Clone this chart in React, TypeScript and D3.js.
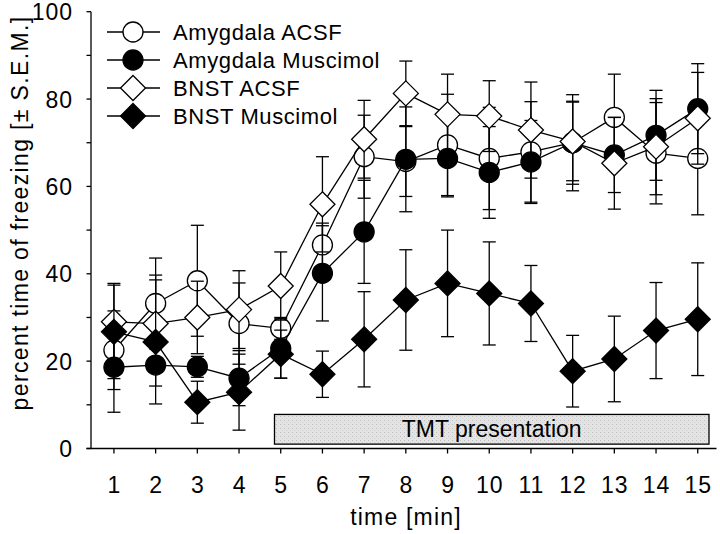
import React from "react";
import * as d3 from "d3";

const minutes = [1, 2, 3, 4, 5, 6, 7, 8, 9, 10, 11, 12, 13, 14, 15];
const seriesNames = ["Amygdala ACSF", "Amygdala Muscimol", "BNST ACSF", "BNST Muscimol"];
const amyACSF = [22.5, 33.2, 38.4, 28.6, 27.5, 46.6, 66.8, 65.7, 69.5, 66.4, 67.9, 70.0, 75.8, 67.6, 66.4];
const amyACSFSem = [9.0, 10.4, 12.7, 9.3, 2.5, 5.0, 9.5, 8.0, 11.6, 11.7, 11.5, 11.0, 9.9, 11.6, 12.9];
const amyMus = [18.6, 19.1, 18.7, 16.1, 22.9, 40.1, 49.6, 66.2, 66.4, 63.2, 65.6, 70.0, 67.2, 71.7, 77.8];
const amyMusSem = [10.3, 4.8, 2.4, 6.3, 6.8, 10.9, 11.8, 12.0, 8.8, 10.5, 9.5, 9.5, 8.6, 10.3, 10.3];
const bnstACSF = [29.0, 28.6, 30.0, 31.8, 37.2, 55.9, 70.8, 81.3, 76.5, 76.1, 72.9, 70.3, 65.3, 69.1, 75.6];
const bnstACSFSem = [8.8, 11.1, 8.3, 8.9, 7.8, 10.9, 8.9, 7.4, 9.2, 8.1, 11.0, 9.0, 10.5, 11.0, 10.5];
const bnstMus = [26.7, 24.4, 10.6, 12.9, 21.6, 17.0, 25.0, 34.0, 37.8, 35.5, 33.2, 17.7, 20.5, 27.0, 29.6];
const bnstMusSem = [10.7, 14.2, 4.8, 8.7, 5.5, 5.3, 10.9, 11.5, 12.2, 11.8, 8.7, 8.2, 9.8, 11.0, 12.9];
const yTicks = [0, 10, 20, 30, 40, 50, 60, 70, 80, 90, 100];
const yLabels = [0, 20, 40, 60, 80, 100];
const tmtRange = [4.85, 15.27];
const tmtY = [1.0, 7.8];
const tmtLabel = "TMT presentation";

const FONT = "'Liberation Sans', Arial, sans-serif";

const x = d3.scaleLinear().domain([0.45, 15.45]).range([91, 716.5]);
const y = d3.scaleLinear().domain([0, 100]).range([448.5, 11.7]);

type Kind = { shape: "circle" | "diamond"; fill: string };
const series: { name: string; v: number[]; sem: number[]; kind: Kind }[] = [
  { name: seriesNames[0], v: amyACSF, sem: amyACSFSem, kind: { shape: "circle", fill: "#fff" } },
  { name: seriesNames[1], v: amyMus, sem: amyMusSem, kind: { shape: "circle", fill: "#000" } },
  { name: seriesNames[2], v: bnstACSF, sem: bnstACSFSem, kind: { shape: "diamond", fill: "#fff" } },
  { name: seriesNames[3], v: bnstMus, sem: bnstMusSem, kind: { shape: "diamond", fill: "#000" } },
];

function Marker({ cx, cy, kind }: { cx: number; cy: number; kind: Kind }) {
  if (kind.shape === "circle") {
    return <circle cx={cx} cy={cy} r={10} fill={kind.fill} stroke="#000" strokeWidth={1.3} />;
  }
  const h = 12.5;
  const p = `M${cx},${cy - h}L${cx + h},${cy}L${cx},${cy + h}L${cx - h},${cy}Z`;
  return <path d={p} fill={kind.fill} stroke="#000" strokeWidth={1.3} />;
}

export default function App() {
  const line = d3
    .line<number>()
    .x((_, i) => x(minutes[i]))
    .y((d) => y(d));
  const cap = 6.5;
  return (
    <svg width={720} height={534} style={{ position: "absolute", left: 0, top: 0, background: "#fff" }}>
      <defs>
        <pattern id="stip" width="4" height="4" patternUnits="userSpaceOnUse">
          <rect width="4" height="4" fill="#e4e4e4" />
          <rect x="0" y="0" width="1" height="1" fill="#bdbdbd" />
          <rect x="2" y="2" width="1" height="1" fill="#cfcfcf" />
        </pattern>
      </defs>
      {/* TMT box */}
      <rect
        x={x(tmtRange[0])}
        y={y(tmtY[1])}
        width={x(tmtRange[1]) - x(tmtRange[0])}
        height={y(tmtY[0]) - y(tmtY[1])}
        fill="url(#stip)"
        stroke="#000"
        strokeWidth={1.3}
      />
      <text
        x={(x(tmtRange[0]) + x(tmtRange[1])) / 2}
        y={y(tmtY[0]) - 7}
        textAnchor="middle"
        fontFamily={FONT}
        fontSize={23}
      >
        {tmtLabel}
      </text>
      {/* axes */}
      <line x1={x(0.45)} x2={x(0.45)} y1={y(0)} y2={y(100)} stroke="#000" strokeWidth={1.3} />
      <line x1={x(0.45) - 4.5} x2={x(15.45)} y1={y(0)} y2={y(0)} stroke="#000" strokeWidth={1.6} />
      {yTicks.map((t) => (
        <line key={t} x1={x(0.45) - 4.5} x2={x(0.45)} y1={y(t)} y2={y(t)} stroke="#000" strokeWidth={1.3} />
      ))}
      {yLabels.map((t) => (
        <text key={t} x={73} y={y(t) + 8.5} textAnchor="end" fontFamily={FONT} fontSize={23} letterSpacing={1}>
          {t}
        </text>
      ))}
      {minutes.map((m) => (
        <g key={m}>
          <line x1={x(m)} x2={x(m)} y1={y(0)} y2={y(0) + 5} stroke="#000" strokeWidth={1.3} />
          <text x={x(m) + 0.5} y={y(0) + 44} textAnchor="middle" fontFamily={FONT} fontSize={23} letterSpacing={1}>
            {m}
          </text>
        </g>
      ))}
      <text x={406} y={525} textAnchor="middle" fontFamily={FONT} fontSize={23} letterSpacing={1.2}>
        time [min]
      </text>
      <text
        transform={`translate(28,213) rotate(-90)`}
        textAnchor="middle"
        fontFamily={FONT}
        fontSize={23}
        letterSpacing={1.35}
      >
        percent time of freezing [± S.E.M.]
      </text>
      {/* series */}
      {series.map((s) => (
        <g key={s.name}>
          {s.v.map((v, i) => {
            const cx = x(minutes[i]);
            const hi = y(v + s.sem[i]);
            const lo = y(v - s.sem[i]);
            return (
              <g key={i} stroke="#000" strokeWidth={1.3}>
                <line x1={cx} x2={cx} y1={hi} y2={lo} />
                <line x1={cx - cap} x2={cx + cap} y1={hi} y2={hi} />
                <line x1={cx - cap} x2={cx + cap} y1={lo} y2={lo} />
              </g>
            );
          })}
          <path d={line(s.v) || ""} fill="none" stroke="#000" strokeWidth={1.3} />
          {s.v.map((v, i) => (
            <Marker key={i} cx={x(minutes[i])} cy={y(v)} kind={s.kind} />
          ))}
        </g>
      ))}
      {/* legend */}
      {series.map((s, i) => {
        const cy = 32 + i * 28;
        return (
          <g key={s.name}>
            <line x1={107} x2={160} y1={cy} y2={cy} stroke="#000" strokeWidth={1.3} />
            <Marker cx={133} cy={cy} kind={s.kind} />
            <text x={173} y={cy + 8} fontFamily={FONT} fontSize={22} letterSpacing={0.6}>
              {s.name}
            </text>
          </g>
        );
      })}
    </svg>
  );
}
